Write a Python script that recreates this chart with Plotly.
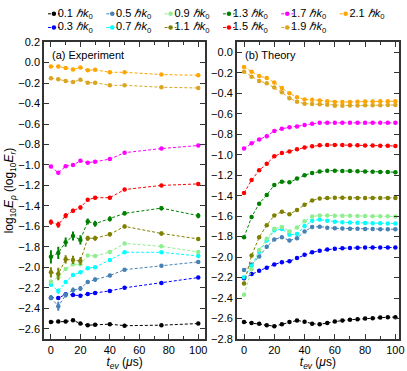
import plotly.graph_objects as go

# momentum labels (hbar k0) and colours
momenta = ["0.1", "0.3", "0.5", "0.7", "0.9", "1.1", "1.3", "1.5", "1.7", "1.9", "2.1"]
colors = ["#000000", "#0000ff", "#4682b4", "#00ffff", "#90ee90", "#808000",
          "#008000", "#ff0000", "#ff00ff", "#daa520", "#ffa500"]

# (a) experiment
exp_t = [0, 5, 10, 15, 20, 25, 30, 40, 50, 75, 100]
exp_01 = [-2.533, -2.53, -2.53, -2.517, -2.549, -2.565, -2.561, -2.555, -2.57, -2.565, -2.549]
exp_03 = [-2.296, -2.30, -2.264, -2.27, -2.277, -2.26, -2.25, -2.23, -2.20, -2.153, -2.10]
exp_05 = [-2.296, -2.38, -2.27, -2.223, -2.207, -2.144, -2.12, -2.08, -2.023, -1.985, -1.947]
exp_07 = [-2.169, -2.232, -2.144, -2.074, -2.049, -2.008, -2.0, -1.928, -1.853, -1.853, -1.89]
exp_09 = [-2.14, -2.096, -2.017, -1.97, -1.97, -1.884, -1.89, -1.85, -1.767, -1.795, -1.85]
exp_11 = [-2.049, -2.065, -1.922, -1.928, -1.938, -1.716, -1.716, -1.678, -1.60, -1.669, -1.723]
exp_13 = [-1.897, -1.859, -1.754, -1.694, -1.732, -1.552, -1.574, -1.527, -1.473, -1.422, -1.495]
exp_15 = [-1.558, -1.584, -1.495, -1.447, -1.416, -1.34, -1.32, -1.32, -1.24, -1.20, -1.185]
exp_17 = [-1.016, -1.076, -1.013, -1.0, -0.96, -0.978, -0.968, -0.943, -0.88, -0.84, -0.81]
exp_19 = [-0.152, -0.162, -0.181, -0.19, -0.168, -0.197, -0.197, -0.222, -0.222, -0.241, -0.248]
exp_21 = [-0.038, -0.038, -0.054, -0.067, -0.048, -0.076, -0.07, -0.095, -0.095, -0.117, -0.124]

err_01 = [0.005, 0.005, 0.005, 0.005, 0.005, 0.005, 0.005, 0.005, 0.005, 0.005, 0.005]
err_03 = [0.01, 0.01, 0.01, 0.01, 0.01, 0.008, 0.008, 0.008, 0.008, 0.008, 0.008]
err_05 = [0.025, 0.045, 0.025, 0.025, 0.025, 0.02, 0.02, 0.018, 0.015, 0.015, 0.015]
err_07 = [0.015, 0.025, 0.015, 0.015, 0.012, 0.012, 0.012, 0.01, 0.01, 0.01, 0.01]
err_09 = [0.02, 0.02, 0.015, 0.015, 0.015, 0.012, 0.012, 0.01, 0.01, 0.01, 0.012]
err_11 = [0.05, 0.06, 0.04, 0.04, 0.04, 0.025, 0.025, 0.02, 0.018, 0.02, 0.02]
err_13 = [0.065, 0.06, 0.045, 0.045, 0.045, 0.03, 0.03, 0.025, 0.02, 0.02, 0.025]
err_15 = [0.025, 0.03, 0.025, 0.02, 0.02, 0.015, 0.015, 0.012, 0.012, 0.01, 0.01]
err_17 = [0.01, 0.012, 0.01, 0.01, 0.01, 0.008, 0.008, 0.008, 0.008, 0.008, 0.008]
err_19 = [0.005, 0.005, 0.005, 0.005, 0.005, 0.005, 0.005, 0.005, 0.005, 0.005, 0.005]
err_21 = [0.005, 0.005, 0.005, 0.005, 0.005, 0.005, 0.005, 0.005, 0.005, 0.005, 0.005]

# (b) theory
th_t = [0, 5, 10, 15, 20, 25, 30, 35, 40, 45, 50, 55, 60, 65, 70, 75, 80, 85, 90, 95, 100]
th_01 = [-2.634, -2.644, -2.65, -2.666, -2.675, -2.656, -2.634, -2.619, -2.631, -2.65, -2.656,
         -2.644, -2.628, -2.619, -2.612, -2.606, -2.60, -2.597, -2.59, -2.587, -2.587]
th_03 = [-2.206, -2.166, -2.134, -2.103, -2.072, -2.05, -2.041, -2.009, -1.978, -1.953, -1.938,
         -1.925, -1.919, -1.913, -1.91, -1.908, -1.907, -1.907, -1.906, -1.906, -1.906]
th_05 = [-2.125, -2.072, -1.994, -1.90, -1.828, -1.806, -1.838, -1.816, -1.75, -1.706, -1.703,
         -1.713, -1.719, -1.72, -1.722, -1.724, -1.725, -1.726, -1.727, -1.728, -1.728]
th_07 = [-2.197, -2.088, -1.947, -1.838, -1.738, -1.725, -1.781, -1.775, -1.697, -1.644, -1.634,
         -1.645, -1.656, -1.66, -1.663, -1.665, -1.667, -1.669, -1.67, -1.671, -1.672]
th_09 = [-2.369, -2.119, -1.931, -1.822, -1.722, -1.706, -1.75, -1.712, -1.65, -1.603, -1.594,
         -1.594, -1.595, -1.596, -1.597, -1.598, -1.599, -1.6, -1.601, -1.602, -1.603]
th_11 = [-2.259, -1.984, -1.806, -1.688, -1.594, -1.556, -1.581, -1.541, -1.488, -1.447, -1.428,
         -1.422, -1.421, -1.421, -1.422, -1.422, -1.423, -1.423, -1.423, -1.422, -1.422]
th_13 = [-1.806, -1.609, -1.478, -1.394, -1.295, -1.263, -1.27, -1.232, -1.20, -1.178, -1.165,
         -1.156, -1.156, -1.158, -1.16, -1.162, -1.164, -1.166, -1.168, -1.17, -1.171]
th_15 = [-1.375, -1.248, -1.152, -1.089, -1.016, -0.984, -0.968, -0.946, -0.93, -0.917, -0.908,
         -0.905, -0.905, -0.906, -0.907, -0.908, -0.909, -0.91, -0.912, -0.913, -0.914]
th_17 = [-0.94, -0.889, -0.851, -0.819, -0.768, -0.746, -0.733, -0.724, -0.711, -0.698, -0.689,
         -0.689, -0.689, -0.688, -0.688, -0.688, -0.688, -0.688, -0.689, -0.689, -0.689]
th_19 = [-0.19, -0.238, -0.279, -0.302, -0.343, -0.39, -0.448, -0.483, -0.502, -0.505, -0.508,
         -0.511, -0.521, -0.521, -0.52, -0.519, -0.518, -0.517, -0.516, -0.515, -0.514]
th_21 = [-0.143, -0.19, -0.232, -0.251, -0.295, -0.349, -0.40, -0.438, -0.46, -0.463, -0.47,
         -0.479, -0.486, -0.486, -0.484, -0.482, -0.481, -0.48, -0.479, -0.478, -0.477]

exp_vals = [exp_01, exp_03, exp_05, exp_07, exp_09, exp_11, exp_13, exp_15, exp_17, exp_19, exp_21]
exp_errs = [err_01, err_03, err_05, err_07, err_09, err_11, err_13, err_15, err_17, err_19, err_21]
th_vals = [th_01, th_03, th_05, th_07, th_09, th_11, th_13, th_15, th_17, th_19, th_21]

FONT = "Liberation Sans, Arial, sans-serif"
DASH = "3px,2px"
fig = go.Figure()

for i, m in enumerate(momenta):
    fig.add_trace(go.Scatter(
        x=exp_t, y=exp_vals[i], mode="lines+markers",
        line=dict(color=colors[i], width=1, dash=DASH),
        marker=dict(color=colors[i], size=4.5),
        error_y=dict(type="data", array=exp_errs[i], color=colors[i], thickness=2, width=0),
        xaxis="x", yaxis="y", showlegend=False))
    fig.add_trace(go.Scatter(
        x=th_t, y=th_vals[i], mode="lines+markers",
        line=dict(color=colors[i], width=1, dash=DASH),
        marker=dict(color=colors[i], size=4.5),
        xaxis="x2", yaxis="y2", showlegend=False))

# legend drawn on a hidden axis above the panels (axis units = page pixels)
for i, m in enumerate(momenta):
    col, row = i // 2, i % 2
    x0 = 48 + 59 * col
    yy = 8 + 14 * row
    fig.add_trace(go.Scatter(
        x=[x0, x0 + 12], y=[yy, yy], mode="lines",
        line=dict(color=colors[i], width=1, dash=DASH),
        xaxis="x3", yaxis="y3", showlegend=False, hoverinfo="skip", cliponaxis=False))
    fig.add_trace(go.Scatter(
        x=[x0 + 6], y=[yy], mode="markers+text",
        marker=dict(color=colors[i], size=4.5),
        text=[m + " <i>ℏk</i><sub>0</sub>"], textposition="middle right",
        textfont=dict(family=FONT, size=11, color="black"),
        xaxis="x3", yaxis="y3", showlegend=False, hoverinfo="skip", cliponaxis=False))

axis_common = dict(showline=True, linecolor="#333", linewidth=1.5, mirror="ticks",
                   ticks="inside", ticklen=5, tickcolor="#333", showgrid=False, zeroline=False,
                   ticklabeloverflow="allow",
                   tickfont=dict(family=FONT, size=11, color="black"))
xcommon = dict(axis_common, tickvals=[0, 20, 40, 60, 80, 100],
               minor=dict(ticks="inside", ticklen=3, tickcolor="#333", dtick=10, showgrid=False),
               title=dict(text="<i>t<sub>ev</sub></i> (<i>μ</i>s)", font=dict(family=FONT, size=12),
                          standoff=5))

fig.update_layout(
    width=407, height=371,
    margin=dict(l=44, r=4, t=2, b=29),
    paper_bgcolor="white", plot_bgcolor="white",
    font=dict(family=FONT, size=11, color="black"),
    xaxis=dict(xcommon, domain=[0, 0.454], range=[-4.7, 104.7]),
    yaxis=dict(axis_common, domain=[0, 0.897], range=[-2.7, 0.2], dtick=0.2, tickformat=".1f",
               title=dict(text="log<sub>10</sub><i>E<sub>ρ</sub></i> (log<sub>10</sub><i>E<sub>r</sub></i>)",
                          font=dict(family=FONT, size=12), standoff=2)),
    xaxis2=dict(xcommon, domain=[0.543, 1.0], range=[-4.8, 102.4], anchor="y2"),
    yaxis2=dict(axis_common, domain=[0, 0.897], range=[-2.8, 0.1], dtick=0.2, tickformat=".1f",
                anchor="x2"),
    xaxis3=dict(domain=[0, 1], range=[44, 403], visible=False, anchor="y3", fixedrange=True),
    yaxis3=dict(domain=[0.9, 1.0], range=[36, 2], visible=False, anchor="x3", fixedrange=True),
    annotations=[
        dict(text="(a) Experiment", xref="x domain", yref="y domain", x=0.04, y=0.985,
             xanchor="left", yanchor="top", showarrow=False, font=dict(family=FONT, size=11)),
        dict(text="(b) Theory", xref="x2 domain", yref="y2 domain", x=0.04, y=0.985,
             xanchor="left", yanchor="top", showarrow=False, font=dict(family=FONT, size=11)),
    ],
)

fig.write_html("out.html", config={"displayModeBar": False},
               post_script="document.body.style.margin='0';")
